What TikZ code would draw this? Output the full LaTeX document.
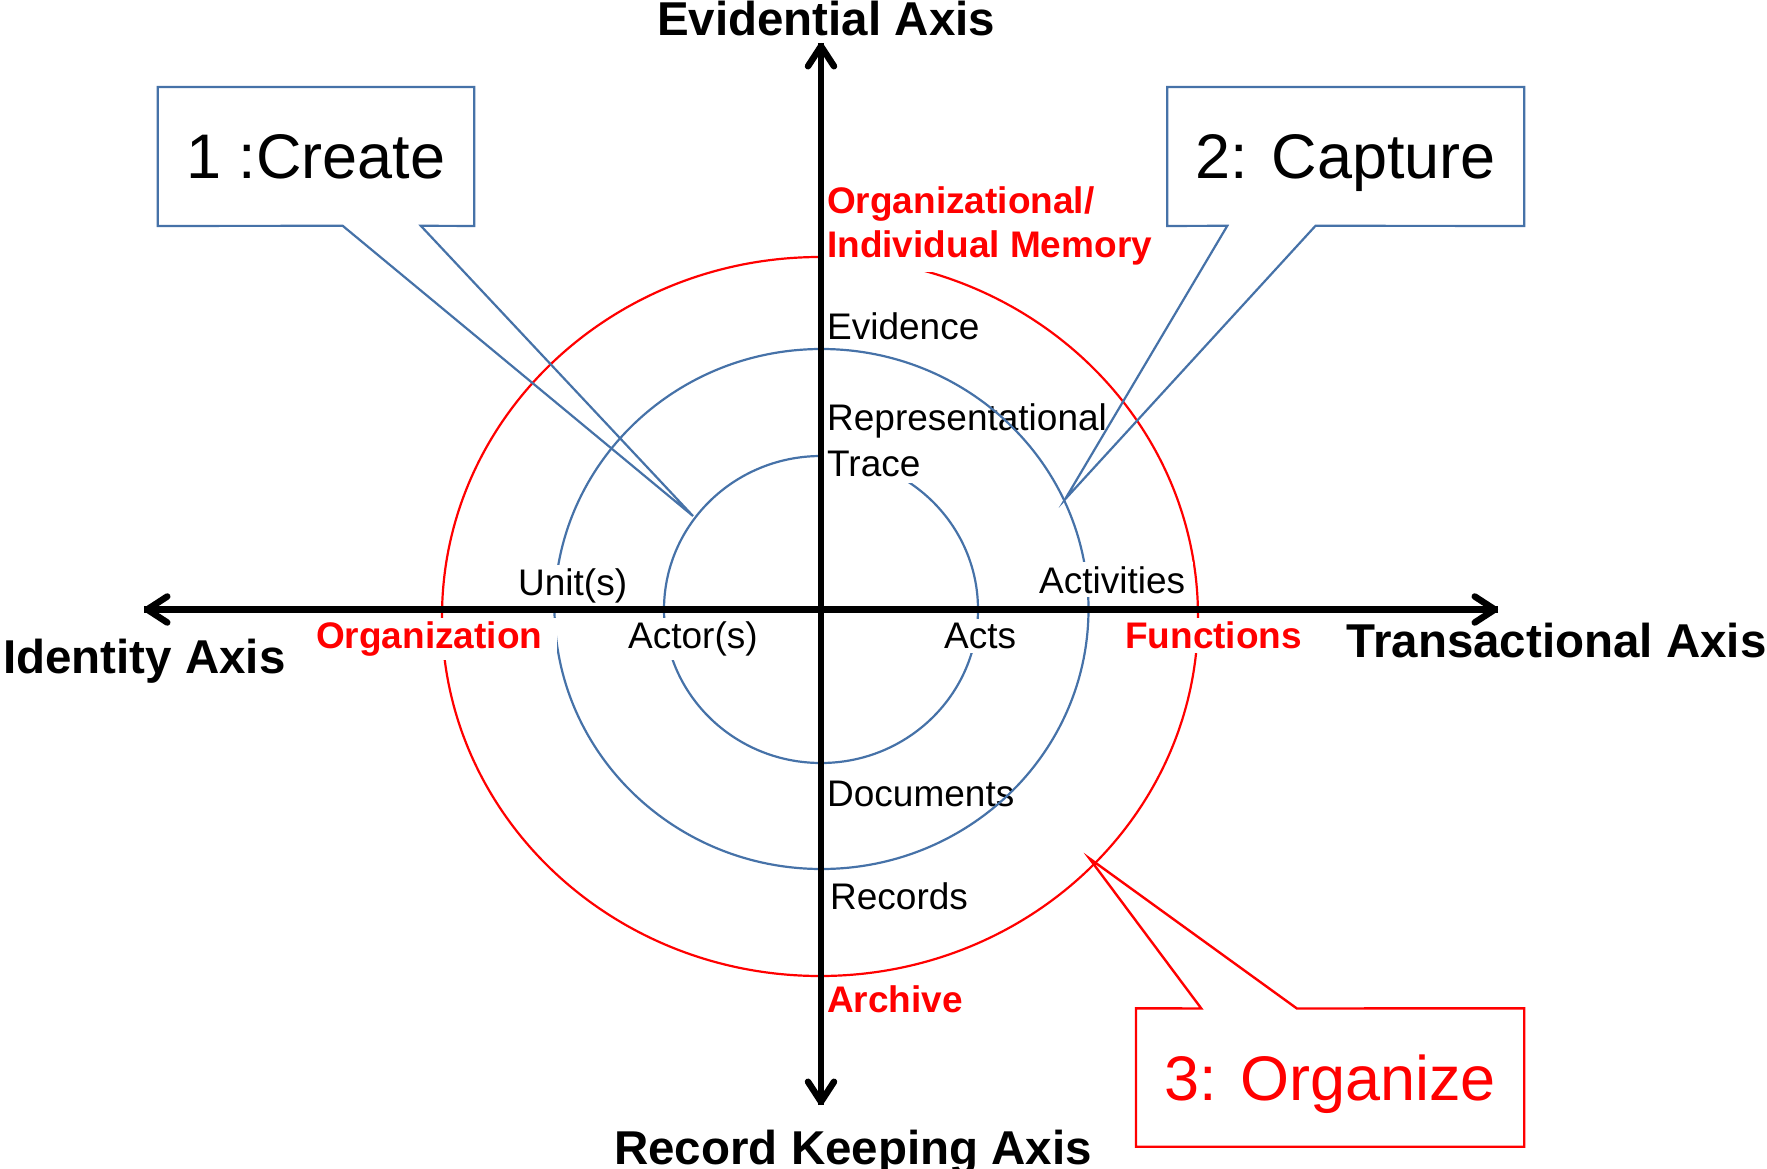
\documentclass[tikz,border=0pt]{standalone}
\usepackage{fontspec}
\setmainfont{Liberation Sans}
\usetikzlibrary{arrows.meta}
\definecolor{cblue}{HTML}{4672A8}
\definecolor{cred}{HTML}{FF0000}
\begin{document}
\begin{tikzpicture}[x=1pt,y=-1pt,
  axisline/.style={line width=6.5pt,-{Straight Barb[length=20pt,width=26pt,round]}},
  bluering/.style={draw=cblue,line width=2.2pt},
  redring/.style={draw=cred,line width=2.2pt},
  lab/.style={font=\fontsize{37}{44}\selectfont,fill=white,inner xsep=8pt,inner ysep=4pt,anchor=base west},
  redlab/.style={lab,font=\fontsize{37}{44}\selectfont\bfseries,text=cred},
  axlab/.style={font=\fontsize{47.5}{56}\selectfont\bfseries,inner sep=0pt,anchor=base west},
  callbox/.style={font=\fontsize{63}{70}\selectfont,inner sep=0pt,text height=45pt,text depth=0pt,draw=none},
  bluecall/.style={draw=cblue,line width=2.2pt},
  redcall/.style={draw=cred,line width=2.4pt}
]
\useasboundingbox (0,0) rectangle (1767,1169);

% outer and inner rings
\draw[redring] (820,616.5) ellipse [x radius=378pt, y radius=359.5pt];
\draw[bluering] (821,609.5) ellipse [x radius=157pt, y radius=153.5pt];

% labels that sit above the outer and inner rings
\node[redlab,align=left,inner ysep=6pt] (mem) at (819,258) {Organizational/\\Individual Memory};
\node[lab] (evid) at (819,339) {Evidence};
\node[lab,align=left,inner ysep=6pt,font=\fontsize{37}{46}\selectfont] (rep) at (819,476.5) {Representational\\Trace};
\node[lab] (docs) at (819,806.6) {Documents};
\node[lab] (rec) at (822,909.5) {Records};
\node[redlab] (arch) at (819,1012) {Archive};
\node[lab] (actor) at (620,648.5) {Actor(s)};
\node[lab] (acts) at (936,648.5) {Acts};
\node[redlab] (func) at (1117,648.5) {Functions};

% middle ring
\draw[bluering] (821.5,609) ellipse [x radius=267pt, y radius=260pt];

% labels above the middle ring
\node[lab] (unit) at (510,595.7) {Unit(s)};
\node[lab] (act) at (1031,593) {Activities};
\node[redlab,inner xsep=15pt] (org) at (301,648.5) {Organization};

% axes
\coordinate (L) at (144,609.5);
\coordinate (R) at (1498,609.5);
\coordinate (T) at (821,43);
\coordinate (B) at (821,1105);
\draw[axisline] (R) -- (L);
\draw[axisline] (L) -- (R);
\draw[axisline] (B) -- (T);
\draw[axisline] (T) -- (B);

% axis titles
\node[axlab] (ev) at (657,36) {Evidential Axis};
\node[axlab] (rk) at (614,1164) {Record Keeping Axis};
\node[axlab] (id) at (3,673.4) {Identity Axis};
\node[axlab] (tr) at (1346.6,657) {Transactional Axis};

% callout 1
\node[callbox,minimum width=316pt,minimum height=138.5pt] (c1) at (316,156.5) {1 :Create};
\coordinate (c1a) at (342.7,225.8);
\coordinate (c1b) at (420.8,225.8);
\coordinate (t1) at (693,516);
\draw[bluecall] (c1.north west) -- (c1.north east) -- (c1.south east) -- (c1b) -- (t1) -- (c1a) -- (c1.south west) -- cycle;

% callout 2
\node[callbox,minimum width=356.7pt,minimum height=138.5pt] (c2) at (1345.7,156.5) {2: Capture};
\coordinate (c2a) at (1227.3,225.8);
\coordinate (c2b) at (1315.5,225.8);
\coordinate (t2) at (1065,499.4);
\draw[bluecall] (c2.north west) -- (c2.north east) -- (c2.south east) -- (c2b) -- (t2) -- (c2a) -- (c2.south west) -- cycle;

% callout 3
\node[callbox,text=cred,minimum width=387.8pt,minimum height=138pt] (c3) at (1330.1,1077.5) {3: Organize};
\coordinate (c3a) at (1201.3,1008.5);
\coordinate (c3b) at (1296.9,1008.5);
\coordinate (t3) at (1089.3,858.3);
\draw[redcall] (c3.south west) -- (c3.south east) -- (c3.north east) -- (c3b) -- (t3) -- (c3a) -- (c3.north west) -- cycle;
\end{tikzpicture}
\end{document}
